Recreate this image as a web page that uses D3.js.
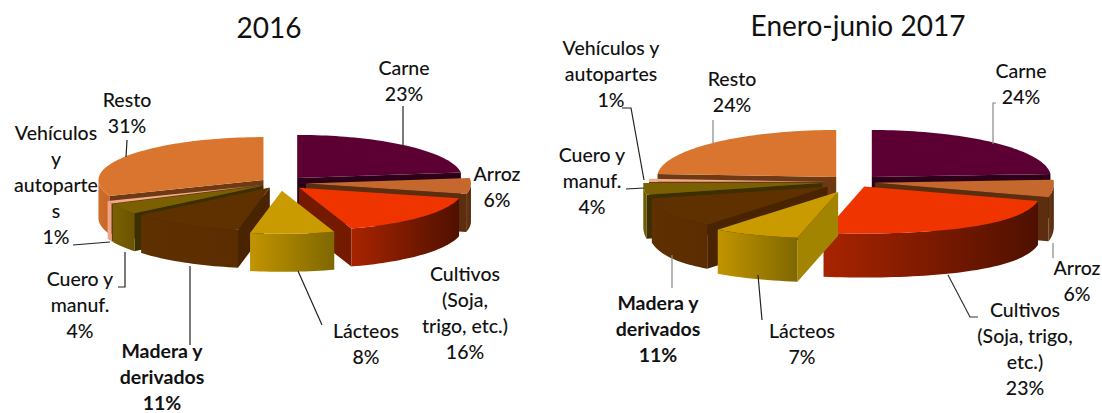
<!DOCTYPE html>
<html>
<head>
<meta charset="utf-8">
<script src="https://cdn.jsdelivr.net/npm/d3@7"></script>
<style>
html, body { margin: 0; padding: 0; background: #fff; }
svg { display: block; }
text { font-family: Lato, "Open Sans", sans-serif; fill: #111; }
</style>
</head>
<body>
<svg id="chart"></svg>
<script>
// exportaciones por sector
const categories = ["Carne", "Arroz", "Cultivos", "Lácteos", "Madera y derivados", "Cuero y manuf.", "Vehículos y autopartes", "Resto"];
const values2016 = [23, 6, 16, 8, 11, 4, 1, 31];
const values2017 = [24, 6, 23, 7, 11, 4, 1, 24];

// label wrapping, one list per slice
const lines2016 = [["Carne"], ["Arroz"], ["Cultivos", "(Soja,", "trigo, etc.)"], ["Lácteos"], ["Madera y", "derivados"], ["Cuero y", "manuf."], ["Vehículos", "y", "autoparte", "s"], ["Resto"]];
const lines2017 = [["Carne"], ["Arroz"], ["Cultivos", "(Soja, trigo,", "etc.)"], ["Lácteos"], ["Madera y", "derivados"], ["Cuero y", "manuf."], ["Vehículos y", "autopartes"], ["Resto"]];

// slice colours: top face, outer wall left/right, cut face
const topColors = ["#5c0033", "#c4682e", "#f03400", "#c99b00", "#5f3000", "#7a6000", "#f0aa8c", "#d9752e"];
const wallLeft = ["#3a0020", "#6a3a14", "#a82400", "#c29400", "#5f3000", "#7a6000", "#f0aa8c", "#d06c2a"];
const wallRight = ["#3a0020", "#54290c", "#4f1000", "#7f6800", "#5a2c00", "#6a5400", "#e8a080", "#c86628"];
const cutColors = ["#2c0018", "#5a2e0e", "#741a00", "#a38400", "#4a2400", "#3c3000", "#6a3a14", "#6e3a14"];

const W = 1102, H = 413;

const layouts = [
    {
        title: "2016", titleX: 269, titleY: 38, titleSize: 28,
        values: values2016, lines: lines2016,
        cx: 280, cy: 183, R: 165, ry: 43, depth: 38, persp: 0.03,
        explode: [26, 26, 26, 30, 20, 20, 20, 20],
        labels: [[404, 75], [497, 181], [465, 281], [366, 338], [162, 358], [80, 286], [56, 140], [127, 107]],
        bold: [false, false, false, false, true, false, false, false],
        leaders: [
            { c: "#222", p: [[403, 106], [403, 149]] },
            { c: "#222", p: [[298, 271], [322, 325]] },
            { c: "#222", p: [[190, 266], [190, 345]] },
            { c: "#222", p: [[125, 252], [125, 287], [118, 287]] },
            { c: "#222", p: [[73, 245], [110, 242]] },
            { c: "#222", p: [[127, 140], [126, 157]] }
        ]
    },
    {
        title: "Enero-junio 2017", titleX: 858, titleY: 36, titleSize: 28,
        values: values2017, lines: lines2017,
        cx: 854, cy: 182, R: 179, ry: 47, depth: 44, persp: 0.22,
        explode: [26, 21, 20, 40, 32, 32, 26, 26],
        labels: [[1021, 78], [1077, 275], [1025, 317], [802, 338], [658, 310], [592, 162], [611, 55], [732, 86]],
        bold: [false, false, false, false, true, false, false, false],
        leaders: [
            { c: "#888", p: [[996, 103], [993, 103], [993, 144]] },
            { c: "#888", p: [[1053, 243], [1053, 258]] },
            { c: "#333", p: [[948, 275], [970, 317], [978, 317]] },
            { c: "#222", p: [[758, 275], [762, 320]] },
            { c: "#888", p: [[672, 255], [672, 288]] },
            { c: "#222", p: [[626, 189], [644, 188]] },
            { c: "#222", p: [[622, 108], [631, 108], [644, 180]] },
            { c: "#888", p: [[713, 120], [713, 143]] }
        ]
    }
];

const svg = d3.select("#chart").attr("width", W).attr("height", H);
const defs = svg.append("defs");
const pie = d3.pie().sort(null).value(d => d);
const line = d3.line();

layouts.forEach((cfg, ci) => {
    const arcs = pie(cfg.values);
    const g = svg.append("g");

    // ground plane polar -> screen, angle clockwise from 12 o'clock
    // the perspective only widens the front half in x, y stays flat
    function project(a, r, ex, ang, down) {
        const px = r * Math.sin(a);
        const pz = -r * Math.cos(a);
        const f = Math.max(0, pz) / cfg.R;
        const s = 1 + cfg.persp * f * f;
        return [
            cfg.cx + px * s + ex * Math.sin(ang),
            cfg.cy + (pz - ex * Math.cos(ang)) / cfg.R * cfg.ry + (down ? cfg.depth : 0)
        ];
    }

    // back slices first
    const midCos = d => Math.cos((d.startAngle + d.endAngle) / 2);
    const order = arcs.map((d, i) => i).sort((a, b) => midCos(arcs[b]) - midCos(arcs[a]));

    order.forEach(i => {
        const d = arcs[i];
        const mid = (d.startAngle + d.endAngle) / 2;
        const ex = cfg.explode[i];
        const P = (a, r, down) => project(a, r, ex, mid, down);
        const steps = Math.max(2, Math.ceil((d.endAngle - d.startAngle) / 0.03));
        const angles = d3.range(steps + 1).map(k => d.startAngle + (d.endAngle - d.startAngle) * k / steps);

        const slice = g.append("g");

        // cut faces, skip the ones turned away from the viewer
        const cuts = [];
        if (Math.sin(d.startAngle) < -0.001) cuts.push(d.startAngle);
        if (Math.sin(d.endAngle) > 0.001) cuts.push(d.endAngle);
        cuts.forEach(a => {
            slice.append("path")
                .attr("d", line([P(a, 0, false), P(a, cfg.R, false), P(a, cfg.R, true), P(a, 0, true)]) + "Z")
                .attr("fill", cutColors[i]);
        });

        // outer wall, only the part that faces the viewer
        const front = angles.filter(a => a > Math.PI / 2 && a < Math.PI * 1.5);
        if (d.startAngle < Math.PI * 1.5 && d.endAngle > Math.PI / 2) {
            const a0 = Math.max(d.startAngle, Math.PI / 2), a1 = Math.min(d.endAngle, Math.PI * 1.5);
            const arcAngles = [a0, ...front, a1];
            const gid = "wall" + ci + "_" + i;
            const grad = defs.append("linearGradient").attr("id", gid);
            grad.append("stop").attr("offset", "0%").attr("stop-color", wallLeft[i]);
            grad.append("stop").attr("offset", "100%").attr("stop-color", wallRight[i]);
            const topEdge = arcAngles.map(a => P(a, cfg.R, false));
            const botEdge = arcAngles.map(a => P(a, cfg.R, true)).reverse();
            slice.append("path")
                .attr("d", line(topEdge.concat(botEdge)) + "Z")
                .attr("fill", "url(#" + gid + ")");
        }

        // top face
        slice.append("path")
            .attr("d", line([P(d.startAngle, 0, false), ...angles.map(a => P(a, cfg.R, false))]) + "Z")
            .attr("fill", topColors[i]);
    });

    // leader lines
    cfg.leaders.forEach(l => {
        g.append("path")
            .attr("d", line(l.p))
            .attr("fill", "none")
            .attr("stroke", l.c)
            .attr("stroke-width", 1.2);
    });

    // labels
    cfg.lines.forEach((ls, i) => {
        const t = g.append("text")
            .attr("text-anchor", "middle")
            .attr("font-size", 19.5)
            .attr("font-weight", cfg.bold[i] ? 700 : 500);
        ls.concat(cfg.values[i] + "%").forEach((s, k) => {
            t.append("tspan")
                .attr("x", cfg.labels[i][0])
                .attr("y", cfg.labels[i][1] + k * 26)
                .text(s);
        });
    });

    g.append("text")
        .attr("x", cfg.titleX)
        .attr("y", cfg.titleY)
        .attr("text-anchor", "middle")
        .attr("font-size", cfg.titleSize)
        .text(cfg.title);
});
</script>
</body>
</html>
